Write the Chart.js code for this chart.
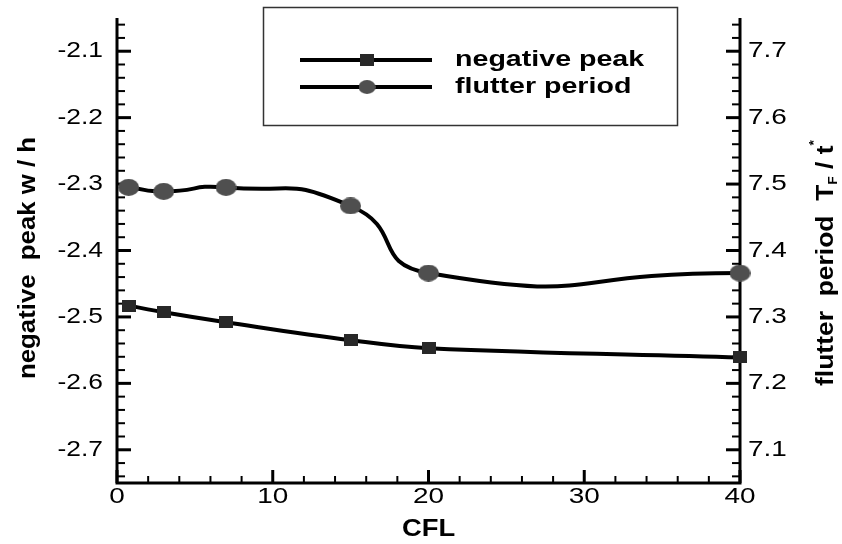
<!DOCTYPE html>
<html>
<head>
<meta charset="utf-8">
<script src="https://cdn.jsdelivr.net/npm/chart.js@4.4.1/dist/chart.umd.min.js"></script>
<style>
    html, body { margin: 0; padding: 0; background: #fff; }
    #wrap { width: 842px; height: 544px; }
</style>
</head>
<body>
<div id="wrap"><canvas id="cflChart"></canvas></div>
<script>
const cfl = [0.75, 3, 7, 15, 20, 40];
const negativePeak = [-2.483, -2.493, -2.508, -2.535, -2.547, -2.561];
const flutterPeriod = [7.495, 7.489, 7.495, 7.467, 7.366, 7.366];
const xTicks = [0, 10, 20, 30, 40];
const leftTicks = [-2.7, -2.6, -2.5, -2.4, -2.3, -2.2, -2.1];
const rightTicks = [7.1, 7.2, 7.3, 7.4, 7.5, 7.6, 7.7];
const seriesNames = ['negative peak', 'flutter period'];

const FONT = '"Liberation Sans", Arial, sans-serif';

// marker images (the original markers are a bit wider than tall)
function markerCanvas(w, h, color, round) {
    const c = document.createElement('canvas');
    c.width = w;
    c.height = h;
    const g = c.getContext('2d');
    g.fillStyle = color;
    if (round) {
        g.beginPath();
        g.ellipse(w / 2, h / 2, w / 2, h / 2, 0, 0, Math.PI * 2);
        g.fill();
    } else {
        g.fillRect(0, 0, w, h);
    }
    return c;
}
const squareMark = markerCanvas(14, 12, '#282828', false);
const circleMark = markerCanvas(21, 17, '#4f4f4f', true);

function drawRuns(ctx, runs, cx, cy, angle, stretch, align) {
    ctx.save();
    ctx.translate(cx, cy);
    ctx.rotate(angle);
    ctx.scale(stretch, 1);
    ctx.textAlign = 'left';
    ctx.textBaseline = 'alphabetic';
    let total = 0;
    runs.forEach(r => { ctx.font = r.font; r.w = ctx.measureText(r.text).width; total += r.w; });
    let x = align === 'left' ? 0 : align === 'right' ? -total : -total / 2;
    runs.forEach(r => {
        ctx.font = r.font;
        ctx.fillText(r.text, x, r.dy || 0);
        x += r.w;
    });
    ctx.restore();
}

function drawLabel(ctx, text, x, y, align, font, stretch) {
    ctx.save();
    ctx.translate(x, y);
    ctx.scale(stretch, 1);
    ctx.font = font;
    ctx.textAlign = align;
    ctx.textBaseline = 'middle';
    ctx.fillText(text, 0, 0);
    ctx.restore();
}

function minorTicks(scale, step, every, cb) {
    const k0 = Math.ceil(scale.min / step - 1e-9);
    const k1 = Math.floor(scale.max / step + 1e-9);
    for (let k = k0; k <= k1; k++) {
        cb(scale.getPixelForValue(k * step), Math.abs(k % every) === 0);
    }
}

const framePlugin = {
    id: 'frame',
    beforeDatasetsDraw(chart) {
        const { ctx, chartArea: a, scales } = chart;
        ctx.save();
        ctx.strokeStyle = '#000';
        ctx.lineWidth = 3;
        ctx.beginPath();
        ctx.moveTo(a.left, a.top);
        ctx.lineTo(a.left, a.bottom);
        ctx.lineTo(a.right, a.bottom);
        ctx.lineTo(a.right, a.top);
        ctx.stroke();

        // inward ticks
        minorTicks(scales.x, 2, 5, (px, major) => {
            ctx.lineWidth = major ? 3 : 2;
            ctx.beginPath();
            ctx.moveTo(px, a.bottom);
            ctx.lineTo(px, a.bottom - (major ? 13 : 7));
            ctx.stroke();
        });
        minorTicks(scales.y, 0.02, 5, (py, major) => {
            ctx.lineWidth = major ? 3 : 2;
            ctx.beginPath();
            ctx.moveTo(a.left, py);
            ctx.lineTo(a.left + (major ? 14 : 8), py);
            ctx.stroke();
        });
        minorTicks(scales.y2, 0.02, 5, (py, major) => {
            ctx.lineWidth = major ? 3 : 2;
            ctx.beginPath();
            ctx.moveTo(a.right, py);
            ctx.lineTo(a.right - (major ? 14 : 8), py);
            ctx.stroke();
        });
        ctx.restore();
    },
    afterDraw(chart) {
        const { ctx, chartArea: a, scales } = chart;
        ctx.save();
        ctx.fillStyle = '#000';
        const tickFont = '22px ' + FONT;
        xTicks.forEach(v => drawLabel(ctx, String(v), scales.x.getPixelForValue(v), a.bottom + 14, 'center', tickFont, 1.27));
        leftTicks.forEach(v => drawLabel(ctx, v.toFixed(1), a.left - 14, scales.y.getPixelForValue(v), 'right', tickFont, 1.2));
        rightTicks.forEach(v => drawLabel(ctx, v.toFixed(1), a.right + 8, scales.y2.getPixelForValue(v), 'left', tickFont, 1.27));

        // axis titles
        const bold = 'bold 23px ' + FONT;
        const small = 'bold 12px ' + FONT;
        drawLabel(ctx, 'CFL', (a.left + a.right) / 2, 530, 'center', bold, 1.19);
        drawRuns(ctx, [{ text: 'negative  peak w / h', font: bold }], 35, 258, -Math.PI / 2, 1.12);
        drawRuns(ctx, [
            { text: 'flutter  period  T', font: bold },
            { text: 'F', font: small, dy: 4 },
            { text: ' / t', font: bold },
            { text: '*', font: small, dy: -15 }
        ], 833, 263, -Math.PI / 2, 1.15);

        // legend box
        ctx.strokeStyle = '#333';
        ctx.lineWidth = 1.5;
        ctx.strokeRect(263.5, 7.5, 414, 118);
        const rows = [
            { y: 60, mark: squareMark, w: 14, h: 12 },
            { y: 87, mark: circleMark, w: 17, h: 14 }
        ];
        rows.forEach((r, i) => {
            ctx.strokeStyle = '#000';
            ctx.lineWidth = 4;
            ctx.beginPath();
            ctx.moveTo(300, r.y);
            ctx.lineTo(432, r.y);
            ctx.stroke();
            ctx.drawImage(r.mark, 367 - r.w / 2, r.y - r.h / 2, r.w, r.h);
            drawRuns(ctx, [{ text: seriesNames[i], font: 'bold 22px ' + FONT }], 455, r.y + 6, 0, 1.3, 'left');
        });
        ctx.restore();
    }
};

const ctxChart = document.getElementById('cflChart').getContext('2d');
new Chart(ctxChart, {
    type: 'line',
    data: {
        datasets: [{
            label: seriesNames[0],
            data: cfl.map((x, i) => ({ x: x, y: negativePeak[i] })),
            yAxisID: 'y',
            borderColor: '#000',
            borderWidth: 4,
            tension: 0.4,
            pointStyle: squareMark,
            pointRadius: 7,
            clip: false
        }, {
            label: seriesNames[1],
            data: cfl.map((x, i) => ({ x: x, y: flutterPeriod[i] })),
            yAxisID: 'y2',
            borderColor: '#000',
            borderWidth: 4,
            tension: 0.6,
            pointStyle: circleMark,
            pointRadius: 9,
            clip: false
        }]
    },
    options: {
        responsive: true,
        maintainAspectRatio: false,
        animation: false,
        layout: { padding: { top: 18 } },
        plugins: {
            legend: { display: false },
            tooltip: { enabled: false }
        },
        scales: {
            x: {
                type: 'linear',
                min: 0,
                max: 40,
                grid: { display: false },
                border: { display: false },
                ticks: { display: false },
                afterFit: s => { s.height = 61; }
            },
            y: {
                position: 'left',
                min: -2.75,
                max: -2.05,
                grid: { display: false },
                border: { display: false },
                ticks: { display: false },
                afterFit: s => { s.width = 117; }
            },
            y2: {
                position: 'right',
                min: 7.05,
                max: 7.75,
                grid: { display: false },
                border: { display: false },
                ticks: { display: false },
                afterFit: s => { s.width = 102; }
            }
        }
    },
    plugins: [framePlugin]
});
</script>
</body>
</html>
